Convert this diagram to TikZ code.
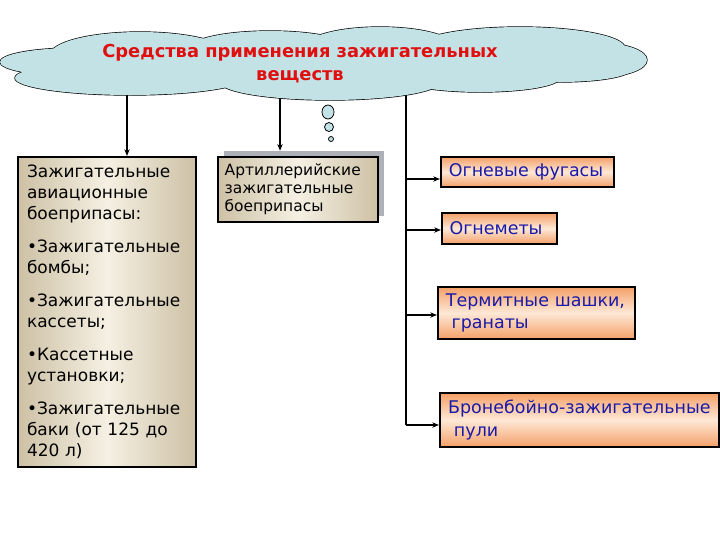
\documentclass[tikz,border=0pt]{standalone}
\usepackage{fontspec}
\setmainfont{DejaVu Sans}
\usetikzlibrary{arrows.meta}
\definecolor{cloudfill}{HTML}{C3E2E6}
\definecolor{titlered}{HTML}{E01010}
\definecolor{beigeD}{HTML}{CDC1A5}
\definecolor{beigeL}{HTML}{F5F0E3}
\definecolor{orangeD}{HTML}{F4A068}
\definecolor{orangeL}{HTML}{FDE8D6}
\definecolor{navy}{HTML}{1A1AA8}
\definecolor{shadowgray}{HTML}{AEB0B8}
\tikzset{
  beigebox/.style={draw=black, line width=1.6pt, left color=beigeD, right color=beigeD, middle color=beigeL, inner sep=0pt},
  orangebox/.style={draw=black, line width=1.6pt, top color=orangeD, bottom color=orangeD, middle color=orangeL, inner sep=0pt, text=navy, align=left, font=\fontsize{13.1pt}{17pt}\selectfont},
  conn/.style={line width=0.8pt, -{Stealth[length=5pt,width=4pt]}},
  branch/.style={line width=1.1pt, -{Stealth[length=5pt,width=4pt]}},
  cloudline/.style={line width=1pt},
  bubble/.style={draw=black, line width=0.6pt, fill=cloudfill},
}
\begin{document}
\begin{tikzpicture}[x=0.75pt,y=-0.75pt]
\useasboundingbox (0,0) rectangle (720,540);

% boxes
\node[beigebox, minimum width=133.5pt, minimum height=232.5pt, text width=120pt, align=left,
      font=\fontsize{12.75pt}{15.75pt}\selectfont] (left) at (107,312)
  {Зажигательные\\авиационные\\боеприпасы:\\[9pt]•Зажигательные\\бомбы;\\[9pt]•Зажигательные\\кассеты;\\[9pt]•Кассетные\\установки;\\[9pt]•Зажигательные\\баки (от 125 до\\420 л)};

\node[fill=shadowgray, minimum width=120pt, minimum height=48.75pt] (shadow) at (304,183.5) {};
\node[beigebox, minimum width=120pt, minimum height=48.75pt, text width=110pt, align=left,
      font=\fontsize{11.6pt}{13.5pt}\selectfont] (art) at (298,189.5)
  {Артиллерийские\\зажигательные\\боеприпасы};

\node[orangebox, minimum width=129.75pt, minimum height=22.5pt, text width=118pt] (b1) at (527.5,172) {Огневые фугасы};
\node[orangebox, minimum width=86.25pt, minimum height=23.25pt, text width=75pt] (b2) at (499.5,228.5) {Огнеметы};
\node[orangebox, minimum width=147.75pt, minimum height=39pt, text width=136pt] (b3) at (536.5,313) {Термитные шашки,\\\ гранаты};
\node[orangebox, minimum width=209.25pt, minimum height=40.5pt, text width=197pt] (b4) at (579.5,420) {Бронебойно-зажигательные\\\ пули};

% connector anchors on the cloud
\coordinate (c1) at (127,80);
\coordinate (c2) at (280,85);
\coordinate (c3) at (406,85);
\coordinate (j1) at (406,179);
\coordinate (j2) at (406,230);
\coordinate (j3) at (406,315);
\coordinate (j4) at (406,425);

\draw[conn] (c1) -- (c1 |- left.north);
\draw[conn] (c2) -- (c2 |- shadow.north);
\draw[line width=0.8pt] (c3) -- (j4);
\draw[branch] (j1) -- (j1 -| b1.west);
\draw[branch] (j2) -- (j2 -| b2.west);
\draw[branch] (j3) -- (j3 -| b3.west);
\draw[branch] (j4) -- (j4 -| b4.west);

% cloud
\foreach \cx/\cy/\rx/\ry in {75/62/75/14, 140/55/90/23, 270/48/80/17, 380/47/75/20, 520/48/105/21, 600/60/47/17, 130/78/115/17, 330/82/110/18, 480/78/80/14, 560/70/70/12}
  \draw[cloudline] (\cx,\cy) ellipse [x radius=\rx, y radius=\ry];
\foreach \cx/\cy/\rx/\ry in {75/62/75/14, 140/55/90/23, 270/48/80/17, 380/47/75/20, 520/48/105/21, 600/60/47/17, 130/78/115/17, 330/82/110/18, 480/78/80/14, 560/70/70/12, 330/63/280/22}
  \fill[cloudfill] (\cx,\cy) ellipse [x radius=\rx, y radius=\ry];

\node[text=titlered, align=center, font=\fontsize{13.4pt}{17.25pt}\selectfont\bfseries] (title) at (300,63.5)
  {Средства применения зажигательных\\веществ};

% thought bubbles
\draw[bubble] (328,112) ellipse [x radius=6, y radius=7];
\draw[bubble] (329,127) ellipse [x radius=4.5, y radius=4.5];
\draw[bubble] (331,139) ellipse [x radius=2.5, y radius=2.5];
\end{tikzpicture}
\end{document}
